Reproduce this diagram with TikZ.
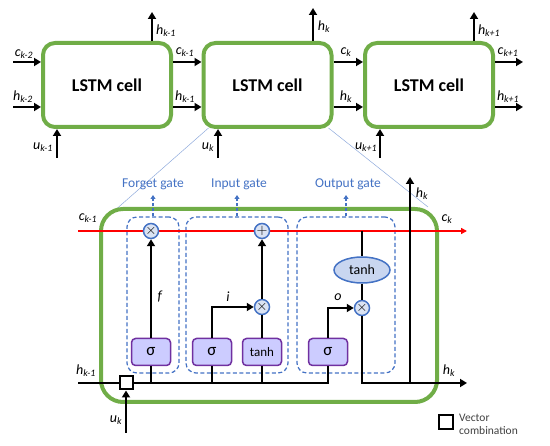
\documentclass[tikz,border=0pt]{standalone}
\usepackage{fontspec}
\setmainfont{Carlito}
\usetikzlibrary{arrows.meta,shapes.geometric}
\definecolor{lgreen}{HTML}{70AD47}
\definecolor{gblue}{HTML}{4472C4}
\definecolor{cfill}{HTML}{DAE3F3}
\definecolor{efill}{HTML}{C9D6F0}
\definecolor{pborder}{HTML}{7030A0}
\definecolor{pfill}{HTML}{CCCCFF}
\newcommand{\vv}[2]{\textit{#1}\textsubscript{\textit{#2}}}
\begin{document}
\begin{tikzpicture}[x=1pt,y=-1pt,
  cell/.style={draw=lgreen, line width=4pt, rounded corners=12pt, minimum width=128pt, minimum height=84pt, font=\bfseries\fontsize{18}{20}\selectfont, inner sep=0pt},
  bigcell/.style={draw=lgreen, line width=4pt, rounded corners=22pt, minimum width=336pt, minimum height=193pt, inner sep=0pt},
  arr/.style={line width=2.5pt, -{Triangle[length=7pt,width=8pt]}},
  ln/.style={line width=2.5pt},
  lbl/.style={font=\fontsize{14}{16}\selectfont, inner sep=0pt},
  gatebox/.style={draw=gblue, line width=1.2pt, dash pattern=on 4pt off 2.5pt, rounded corners=10pt, inner sep=0pt},
  gatelbl/.style={text=gblue, font=\fontsize{13.5}{15}\selectfont, inner sep=0pt},
  gatearr/.style={draw=gblue, line width=1.2pt, dash pattern=on 3pt off 2pt, -{Triangle[length=4pt,width=5pt]}},
  op/.style={circle, draw=gblue, fill=cfill, line width=1.5pt, minimum size=15pt, inner sep=0pt, font=\fontsize{14}{14}\selectfont},
  act/.style={draw=pborder, fill=pfill, line width=1.5pt, rounded corners=4pt, minimum width=39pt, minimum height=27pt, inner sep=0pt},
  zoomln/.style={draw=gblue!60, line width=0.5pt},
  cline/.style={draw=red, line width=2pt, -{Triangle[length=6pt,width=6pt]}}
]
\useasboundingbox (0,0) rectangle (550,446);

% ---------- top chain ----------
\node[cell] (c1) at (107,85) {LSTM cell};
\node[cell] (c2) at (267.5,85) {LSTM cell};
\node[cell] (c3) at (429,85) {LSTM cell};

\coordinate (cy) at (13,62);
\coordinate (hy) at (13,107);
\coordinate (cend) at (523,62);
\coordinate (hend) at (523,107);
\draw[arr] (cy) -- (cy -| c1.west);
\draw[arr] (hy) -- (hy -| c1.west);
\draw[arr] (cy -| c1.east) -- (cy -| c2.west);
\draw[arr] (hy -| c1.east) -- (hy -| c2.west);
\draw[arr] (cy -| c2.east) -- (cy -| c3.west);
\draw[arr] (hy -| c2.east) -- (hy -| c3.west);
\draw[arr] (cy -| c3.east) -- (cend);
\draw[arr] (hy -| c3.east) -- (hend);

\coordinate (u1) at (57,158);
\coordinate (u2) at (218,158);
\coordinate (u3) at (380,158);
\draw[arr] (u1) -- (u1 |- c1.south);
\draw[arr] (u2) -- (u2 |- c2.south);
\draw[arr] (u3) -- (u3 |- c3.south);

\coordinate (t1) at (152,12);
\coordinate (t2) at (313,8);
\coordinate (t3) at (474,12);
\draw[arr] (t1 |- c1.north) -- (t1);
\draw[arr] (t2 |- c2.north) -- (t2);
\draw[arr] (t3 |- c3.north) -- (t3);

\node[lbl] (l1) at (24,54) {\vv{c}{k-2}};
\node[lbl] (l2) at (23,97) {\vv{h}{k-2}};
\node[lbl] (l3) at (43,147) {\vv{u}{k-1}};
\node[lbl] (l4) at (166,31) {\vv{h}{k-1}};
\node[lbl] (l5) at (185,52) {\vv{c}{k-1}};
\node[lbl] (l6) at (185,97) {\vv{h}{k-1}};
\node[lbl] (l7) at (208,147) {\vv{u}{k}};
\node[lbl] (l8) at (324,27) {\vv{h}{k}};
\node[lbl] (l9) at (346,52) {\vv{c}{k}};
\node[lbl] (l10) at (346,97) {\vv{h}{k}};
\node[lbl] (l11) at (366,147) {\vv{u}{k+1}};
\node[lbl] (l12) at (489,31) {\vv{h}{k+1}};
\node[lbl] (l13) at (508,52) {\vv{c}{k+1}};
\node[lbl] (l14) at (508,97) {\vv{h}{k+1}};

% ---------- zoom lines ----------
\coordinate (zl) at (113,212);
\coordinate (zr) at (428,207);
\draw[zoomln] ([xshift=7pt,yshift=1pt]c2.south west) -- (zl);
\draw[zoomln] ([xshift=-5pt,yshift=1pt]c2.south east) -- (zr);

% ---------- big cell ----------
\node[bigcell] (big) at (269,305.5) {};

\node[gatebox, minimum width=52pt, minimum height=156pt] (fg) at (153,295) {};
\node[gatebox, minimum width=102pt, minimum height=156pt] (ig) at (237,295) {};
\node[gatebox, minimum width=98pt, minimum height=156pt] (og) at (346,295) {};

\node[gatelbl] (fl) at (153,184) {Forget gate};
\node[gatelbl] (il) at (239,184) {Input gate};
\node[gatelbl] (ol) at (348,184) {Output gate};
\draw[gatearr] (fg.north) -- (fg.north |- 0,195);
\draw[gatearr] (ig.north) -- (ig.north |- 0,195);
\draw[gatearr] (og.north) -- (og.north |- 0,195);

\coordinate (cin) at (78,231);
\coordinate (cout) at (467,231);
\draw[cline] (cin) -- (cout);

\node[op] (fx) at (151,231) {$\times$};
\node[op] (ia) at (262,231) {$+$};
\node[op] (im) at (262,307) {$\times$};
\node[op] (om) at (362,308) {$\times$};
\node[ellipse, draw=gblue, fill=efill, line width=1.5pt, minimum width=56pt, minimum height=26pt, inner sep=0pt, font=\fontsize{14}{16}\selectfont] (ot) at (362,270) {tanh};

\node[act, font=\fontsize{17}{18}\selectfont] (fs) at (151,352) {σ};
\node[act, font=\fontsize{17}{18}\selectfont] (is) at (212,352) {σ};
\node[act, font=\fontsize{13}{14}\selectfont] (it) at (262,352) {tanh};
\node[act, font=\fontsize{17}{18}\selectfont] (os) at (328,352) {σ};

\node[draw, fill=white, line width=2pt, minimum size=13pt, inner sep=0pt] (vc) at (126,383) {};

\coordinate (hin) at (78,383);
\coordinate (uin) at (126,433);
\coordinate (hout) at (467,383);
\coordinate (hup) at (410,177);

\draw[ln] (hin) -- (vc.west);
\draw[arr] (uin) -- (vc.south);
\draw[ln] (vc.east) -| (os.south);
\draw[ln] (fs.south) -- (fs.south |- vc.east);
\draw[ln] (is.south) -- (is.south |- vc.east);
\draw[ln] (it.south) -- (it.south |- vc.east);

\draw[arr] (fs.north) -- (fx.south);
\draw[arr] (is.north) |- (im.west);
\draw[ln] (it.north) -- (im.south);
\draw[arr] (im.north) -- (ia.south);
\draw[arr] (os.north) |- (om.west);
\draw[ln] (ot.north |- cin) -- (ot.north);
\draw[ln] (ot.south) -- (om.north);
\draw[arr] (om.south) |- (hout);
\draw[arr] (hup |- hout) -- (hup);

\node[lbl] (b1) at (88,218) {\vv{c}{k-1}};
\node[lbl] (b2) at (447,219) {\vv{c}{k}};
\node[lbl] (b3) at (422,194) {\vv{h}{k}};
\node[lbl] (b4) at (86,371) {\vv{h}{k-1}};
\node[lbl] (b5) at (116,420) {\vv{u}{k}};
\node[lbl] (b6) at (449,371) {\vv{h}{k}};
\node[lbl] (bf) at (160,297) {\textit{f}};
\node[lbl] (bi) at (228,297) {\textit{i}};
\node[lbl] (bo) at (338,297) {\textit{o}};

% ---------- legend ----------
\node[draw, line width=2pt, minimum size=14pt, inner sep=0pt] (lg) at (445.5,422.5) {};
\node[anchor=west, align=left, text=black!75, font=\fontsize{11.5}{13}\selectfont, inner sep=0pt] (lgt) at (459,424) {Vector\\combination};
\end{tikzpicture}
\end{document}
